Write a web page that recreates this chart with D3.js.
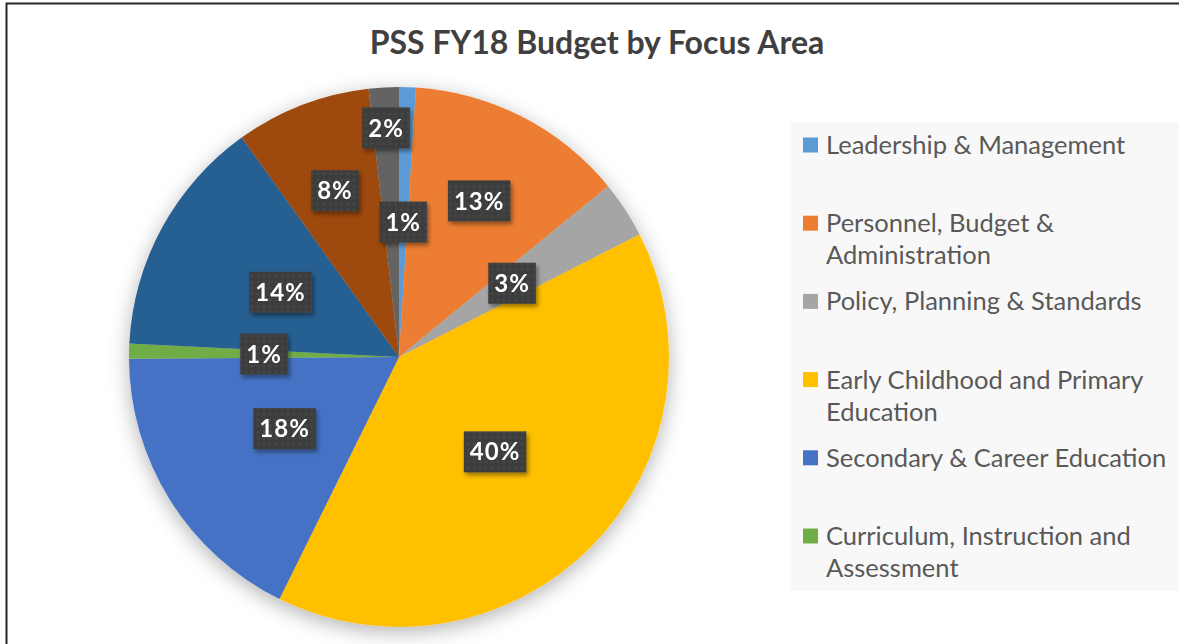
<!DOCTYPE html>
<html>
<head>
<meta charset="utf-8">
<script src="https://cdn.jsdelivr.net/npm/d3@7"></script>
<style>
  body { margin: 0; background: #fff; }
  svg { display: block; }
</style>
</head>
<body>
<div id="chart"></div>
<script>
// Data
var chartTitle = 'PSS FY18 Budget by Focus Area';
var areas = [
  'Leadership & Management',
  'Personnel, Budget & Administration',
  'Policy, Planning & Standards',
  'Early Childhood and Primary Education',
  'Secondary & Career Education',
  'Curriculum, Instruction and Assessment',
  'Area 7',   // legend cut off in the original, names unknown
  'Area 8',
  'Area 9'
];
var shares = [1.0, 13.1, 3.4, 39.8, 17.6, 0.9, 14.3, 8.1, 1.8];
var colors = ['#5B9BD5', '#ED7D31', '#A5A5A5', '#FFC000', '#4472C4', '#70AD47', '#255E91', '#9E480E', '#636363'];

var W = 1179, H = 644;
var cx = 399, cy = 357, R = 270;

var svg = d3.select('#chart').append('svg')
  .attr('width', W).attr('height', H);

var defs = svg.append('defs');

// soft shadow under pie
var f = defs.append('filter').attr('id', 'pieShadow')
  .attr('x', '-20%').attr('y', '-20%').attr('width', '140%').attr('height', '140%');
f.append('feDropShadow').attr('dx', 0).attr('dy', 5)
  .attr('stdDeviation', 10).attr('flood-color', '#000').attr('flood-opacity', 0.3);

// label box shadow
var f2 = defs.append('filter').attr('id', 'boxShadow')
  .attr('x', '-30%').attr('y', '-30%').attr('width', '160%').attr('height', '160%');
f2.append('feDropShadow').attr('dx', 2).attr('dy', 3)
  .attr('stdDeviation', 2).attr('flood-color', '#000').attr('flood-opacity', 0.4);

// dotted texture on label boxes
var pat = defs.append('pattern').attr('id', 'dots')
  .attr('width', 6).attr('height', 6).attr('patternUnits', 'userSpaceOnUse');
pat.append('rect').attr('width', 6).attr('height', 6).attr('fill', '#3d3d3d');
pat.append('circle').attr('cx', 3).attr('cy', 3).attr('r', 1.3).attr('fill', '#474747');

// Chart border (top and left only visible)
svg.append('path')
  .attr('d', 'M6.5,' + (H + 5) + 'V3.5H' + (W + 5))
  .attr('fill', 'none').attr('stroke', '#262626').attr('stroke-width', 2);

// Title
svg.append('text')
  .attr('x', 597).attr('y', 54)
  .attr('text-anchor', 'middle')
  .style('font-family', 'Lato, sans-serif')
  .style('font-weight', 'bold')
  .style('font-size', '32px')
  .attr('fill', '#404040')
  .text(chartTitle);

// Pie
var pie = d3.pie().sort(null).value(function(d){ return d; });
var arcs = pie(shares);
var arc = d3.arc().innerRadius(0).outerRadius(R);

var g = svg.append('g').attr('transform', 'translate(' + cx + ',' + cy + ')');

g.append('g').attr('filter', 'url(#pieShadow)')
  .selectAll('path')
  .data(arcs)
  .enter()
  .append('path')
    .attr('d', arc)
    .attr('fill', function(d, i){ return colors[i]; });

// Data labels - start at half radius, push outward if they collide
var total = d3.sum(shares);
var placed = [];
var pad = 20, boxH = 41;
var labels = g.append('g');

arcs.forEach(function(a, i){
  var txt = Math.round(a.data / total * 100) + '%';
  var lg = labels.append('g').attr('filter', 'url(#boxShadow)');
  var rect = lg.append('rect').attr('fill', 'url(#dots)');
  var t = lg.append('text')
    .attr('text-anchor', 'middle')
    .attr('dy', '0.36em')
    .style('font-family', 'Lato, sans-serif')
    .style('font-weight', 'bold')
    .style('font-size', '24px')
    .style('letter-spacing', '1px')
    .attr('fill', '#fff')
    .text(txt);
  var bw = t.node().getComputedTextLength() + 12;
  var mid = (a.startAngle + a.endAngle) / 2;
  var k = 0.5, x, y;
  function hits(){
    return placed.some(function(p){
      return Math.abs(p.x - x) < (p.w + bw) / 2 + pad && Math.abs(p.y - y) < boxH + pad;
    });
  }
  do {
    x = Math.sin(mid) * R * k;
    y = -Math.cos(mid) * R * k;
    k += 0.01;
  } while (hits() && k < 0.95);
  placed.push({x: x, y: y, w: bw});
  rect.attr('x', x - bw / 2).attr('y', y - boxH / 2)
    .attr('width', bw).attr('height', boxH);
  t.attr('x', x).attr('y', y);
});

// Legend
var lx = 791, ly = 122, lw = 388, lh = 469;
svg.append('rect')
  .attr('x', lx).attr('y', ly).attr('width', lw).attr('height', lh)
  .attr('fill', '#f8f8f8');

var legend = svg.append('g');
var rowStep = 78.2, lineH = 32, maxW = 350;

areas.forEach(function(name, i){
  var yc = 145 + i * rowStep;
  if (yc + lineH > ly + lh) return; // rows past the box are not shown
  legend.append('rect')
    .attr('x', 803).attr('y', yc - 7.5)
    .attr('width', 15).attr('height', 15)
    .attr('fill', colors[i]);
  var t = legend.append('text')
    .attr('x', 826).attr('y', yc)
    .attr('dy', '0.35em')
    .style('font-family', 'Lato, sans-serif')
    .style('font-size', '25.5px')
    .attr('fill', '#595959');
  // simple word wrap
  var words = name.split(' ');
  var line = [];
  var ts = t.append('tspan').attr('x', 826);
  words.forEach(function(w){
    line.push(w);
    ts.text(line.join(' '));
    if (ts.node().getComputedTextLength() > maxW && line.length > 1) {
      line.pop();
      ts.text(line.join(' '));
      line = [w];
      ts = t.append('tspan').attr('x', 826).attr('dy', lineH).text(w);
    }
  });
});
</script>
</body>
</html>
